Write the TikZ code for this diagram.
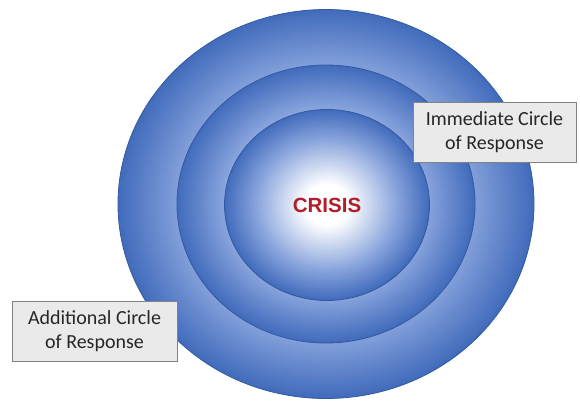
\documentclass[tikz,border=0pt]{standalone}
\usepackage{fontspec}
\setmainfont{Carlito}
\newfontfamily\crisisfont{Liberation Sans}
\usetikzlibrary{positioning, shapes.geometric}

\definecolor{ringlight}{RGB}{135,163,220}
\definecolor{ringdark}{RGB}{66,108,188}
\definecolor{ringedge}{RGB}{50,88,160}
\definecolor{crisisred}{RGB}{178,30,40}
\definecolor{boxfill}{RGB}{234,234,234}
\definecolor{boxline}{RGB}{130,130,130}

\begin{document}
\begin{tikzpicture}[x=1bp, y=-1bp,
	ring/.style={ellipse, draw=ringedge, line width=0.8bp, inner sep=0pt},
	labelbox/.style={draw=boxline, fill=boxfill, line width=0.8bp, rectangle, align=center, inner sep=0pt, font=\fontsize{20bp}{24bp}\selectfont, text=black!85}]
	\useasboundingbox (0,0) rectangle (580,400);

	% Define circles, each filled from its edge inwards
	\foreach \name/\cx/\cy/\rx/\ry in {outer/326/204/208/194.5, middle/326/204/149/139, inner/327/205/102.5/95.5} {
		\foreach \k in {80,79,...,1} {
			\pgfmathsetmacro\t{\k/80}
			\pgfmathsetmacro\pone{100*min(max((\t-0.7)/0.3,0),1)}
			\pgfmathsetmacro\ptwo{100*min(max((\t-0.22)/0.48,0),1)}
			\colorlet{stepcol}{ringlight!\ptwo!white}
			\fill [ringdark!\pone!stepcol] (\cx,\cy) ellipse [x radius={\t*\rx*1bp}, y radius={\t*\ry*1bp}];
		}
		\node [ring, minimum width=2*\rx bp, minimum height=2*\ry bp] (\name) at (\cx,\cy) {};
	}
	\node [text=crisisred, font=\crisisfont\bfseries\fontsize{20.5bp}{24bp}\selectfont] (crisis) at (inner) {CRISIS};

	% Labels
	\node [labelbox, minimum width=163bp, minimum height=60bp] (immediate) at (494.5,132.5) {Immediate Circle\\of Response};
	\node [labelbox, minimum width=165bp, minimum height=60bp] (additional) at (94.5,331.5) {Additional Circle\\of Response};
\end{tikzpicture}
\end{document}
